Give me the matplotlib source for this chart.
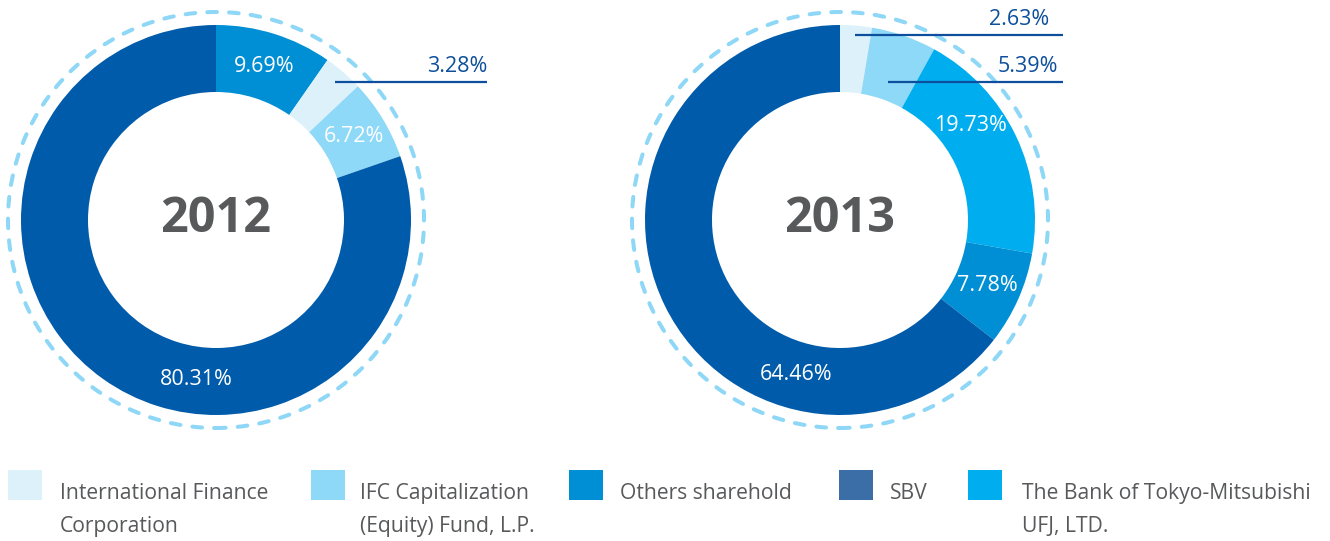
import numpy as np
import matplotlib
matplotlib.use("Agg")
import matplotlib.pyplot as plt
from matplotlib.patches import Circle, Rectangle

plt.rcParams['font.family'] = ['Open Sans', 'DejaVu Sans']

# ---------------- data ----------------
legend_labels = ["International Finance\nCorporation",
                 "IFC Capitalization\n(Equity) Fund, L.P.",
                 "Others sharehold",
                 "SBV",
                 "The Bank of Tokyo-Mitsubishi\nUFJ, LTD."]
legend_colors = ["#ddf1fb", "#8ed8f8", "#008fd5", "#3b6da7", "#00aeef"]

years = ["2012", "2013"]
cats_2012 = ["Others sharehold", "International Finance\nCorporation",
             "IFC Capitalization\n(Equity) Fund, L.P.", "SBV"]
vals_2012 = [9.69, 3.28, 6.72, 80.31]
cats_2013 = ["International Finance\nCorporation",
             "IFC Capitalization\n(Equity) Fund, L.P.",
             "The Bank of Tokyo-Mitsubishi\nUFJ, LTD.",
             "Others sharehold", "SBV"]
vals_2013 = [2.63, 5.39, 19.73, 7.78, 64.46]

# wedge colour (SBV wedge drawn darker than its legend chip, as in the reference)
wedge_colors = {"International Finance\nCorporation": "#ddf1fb",
                "IFC Capitalization\n(Equity) Fund, L.P.": "#8ed8f8",
                "Others sharehold": "#008fd5",
                "SBV": "#005bab",
                "The Bank of Tokyo-Mitsubishi\nUFJ, LTD.": "#00aeef"}

W, H = 1330, 541
fig = plt.figure(figsize=(W / 100, H / 100), dpi=100)
ax = fig.add_axes([0, 0, 1, 1])


def Y(py):
    return H - py


# layout per donut
centers = [(216, 220), (840, 220)]
R_out, R_in, R_dash = 195, 128, 208
label_r = 161
# label angle overrides (degrees clockwise from top) for big wedges; None -> mid angle
label_angle = [[None, None, None, 187],
               [None, None, 54, None, 196]]
# outside labels: index -> (y pixel of leader line, x end pixel of line, x end of text)
outside = [{1: (82, 487, 487)},
           {0: (35, 1063, 1049), 1: (82, 1063, 1058)}]

text_dark = "#58595b"
leader_col = "#0d4f9c"

for k, (cats, vals) in enumerate([(cats_2012, vals_2012), (cats_2013, vals_2013)]):
    cx, cy = centers[k]
    cols = [wedge_colors[c] for c in cats]
    ax.pie(vals, colors=cols, startangle=90, counterclock=False,
           radius=R_out, center=(cx, Y(cy)), frame=True,
           wedgeprops=dict(width=R_out - R_in, edgecolor='none', linewidth=0))
    # dashed outer ring
    ring = Circle((cx, Y(cy)), R_dash, fill=False, edgecolor="#8fd7f6",
                  linewidth=2.9, linestyle=(0, (2.4, 3.0)))
    ring.set_capstyle('round')
    ax.add_patch(ring)
    # year
    ax.text(cx, Y(cy), years[k], ha='center', va='center', fontsize=35,
            fontweight='bold', color=text_dark)
    cum = 0.0
    for i, v in enumerate(vals):
        mid = (cum + v / 2) / 100 * 360
        cum += v
        lbl = f"{v:.2f}%"
        if i in outside[k]:
            ly, xend, xtxt = outside[k][i]
            dy = cy - ly
            rr = dy / np.cos(np.radians(mid))
            xs = cx + rr * np.sin(np.radians(mid))
            ax.plot([xs, xend], [Y(ly), Y(ly)], color=leader_col, lw=1.6,
                    solid_capstyle='butt')
            ax.text(xtxt, Y(ly) + 5, lbl, ha='right', va='bottom',
                    fontsize=15.5, color=leader_col)
        else:
            ang = label_angle[k][i] if label_angle[k][i] is not None else mid
            tx = cx + label_r * np.sin(np.radians(ang))
            ty = cy - label_r * np.cos(np.radians(ang))
            ax.text(tx, Y(ty), lbl, ha='center', va='center', fontsize=15.5,
                    color='white')

# legend
chip_x = [8, 311, 569, 839, 968]
text_x = [60, 360, 620, 890, 1022]
for lab, col, xc, xt in zip(legend_labels, legend_colors, chip_x, text_x):
    ax.add_patch(Rectangle((xc, Y(500)), 34, 30, facecolor=col, edgecolor='none'))
    for j, line in enumerate(lab.split("\n")):
        ax.text(xt, Y(499 + 33 * j), line, ha='left', va='baseline',
                fontsize=15.2, color=text_dark)

ax.set_xlim(0, W)
ax.set_ylim(0, H)
ax.set_aspect('auto')
ax.axis('off')
fig.savefig("out.png", dpi=100)
